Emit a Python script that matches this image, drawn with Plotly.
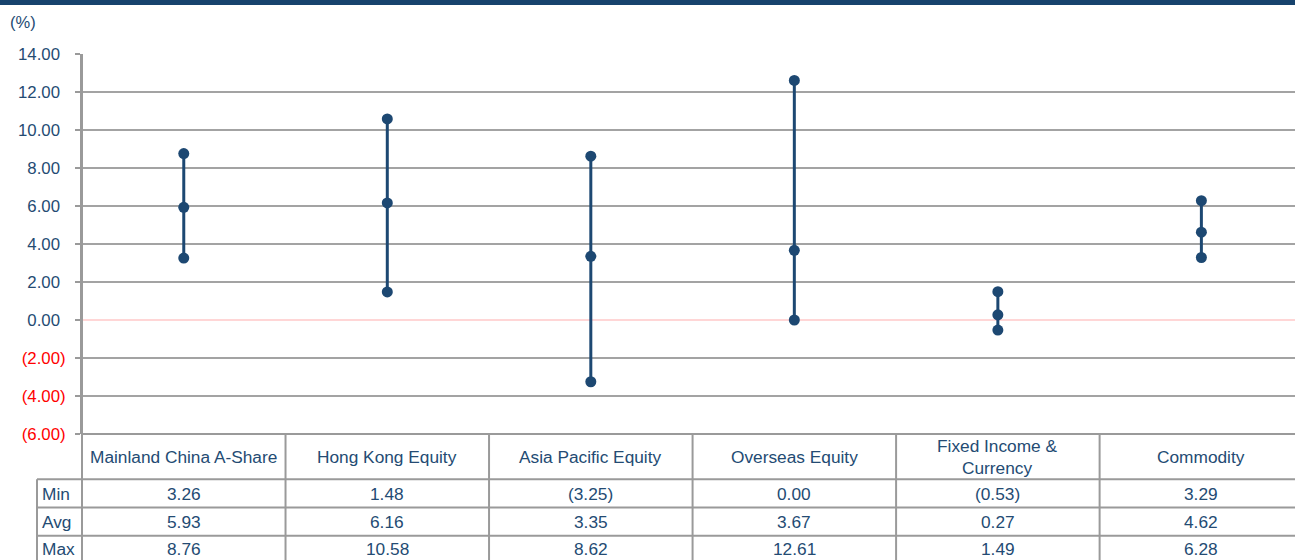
import plotly.graph_objects as go

categories = ["Mainland China A-Share", "Hong Kong Equity", "Asia Pacific Equity",
              "Overseas Equity", "Fixed Income &<br>Currency", "Commodity"]
min_vals = [3.26, 1.48, -3.25, 0.00, -0.53, 3.29]
avg_vals = [5.93, 6.16, 3.35, 3.67, 0.27, 4.62]
max_vals = [8.76, 10.58, 8.62, 12.61, 1.49, 6.28]
row_labels = ["Min", "Avg", "Max"]
y_ticks = [14, 12, 10, 8, 6, 4, 2, 0, -2, -4, -6]

BLUE = "#1d4872"
TXT = "#244b73"
GRID = "#a3a3a3"
BORDER = "#9a9a9a"
FONT = "Liberation Sans, Arial, sans-serif"
FS = 16.8
FT = 17.3

W, H = 1295, 560
ML, MT, MB = 82, 54, 126
PH = H - MT - MB  # 380
PW = W - ML       # 1213
XMIN, XMAX = -0.5, 5.46


def px_x(p):
    return (p - ML) / PW


def px_y(p):
    return (H - MB - p) / PH


def data_to_paper_x(x):
    return (x - XMIN) / (XMAX - XMIN)


def fmt(v):
    if v < 0:
        return f"({abs(v):.2f})"
    return f"{v:.2f}"


fig = go.Figure()

for i, cat in enumerate(categories):
    fig.add_trace(go.Scatter(
        x=[i, i, i], y=[min_vals[i], avg_vals[i], max_vals[i]],
        mode="lines+markers",
        line=dict(color=BLUE, width=3),
        marker=dict(color=BLUE, size=11),
        showlegend=False, hoverinfo="skip", cliponaxis=False,
    ))

ticktext = []
for t in y_ticks:
    if t < 0:
        ticktext.append(f'<span style="color:#ff0000">{fmt(t)}</span>')
    else:
        ticktext.append(f'{fmt(t)}<span style="color:rgba(0,0,0,0)">)</span>')

shapes = []
# top banner
shapes.append(dict(type="rect", xref="paper", yref="paper",
                   x0=px_x(0) - 0.01, x1=1.01, y0=px_y(5), y1=px_y(-2),
                   fillcolor="#17436d", line=dict(width=0), layer="above"))
# y axis extended through table
shapes.append(dict(type="line", xref="paper", yref="paper",
                   x0=0, x1=0, y0=1, y1=px_y(H + 5), line=dict(color=BORDER, width=2)))
# row label column left border
shapes.append(dict(type="line", xref="paper", yref="paper",
                   x0=px_x(37), x1=px_x(37), y0=px_y(479.3), y1=px_y(H + 5),
                   line=dict(color=BORDER, width=2)))
# column borders
for i in range(len(categories)):
    xp = data_to_paper_x(i + 0.5)
    shapes.append(dict(type="line", xref="paper", yref="paper",
                       x0=xp, x1=xp, y0=0, y1=px_y(H + 5),
                       line=dict(color=BORDER, width=2)))
# header top
shapes.append(dict(type="line", xref="paper", yref="paper",
                   x0=0, x1=1.01, y0=0, y1=0, line=dict(color=BORDER, width=2)))
row_tops = [479.3, 507.6, 535.7]
for rt in row_tops:
    shapes.append(dict(type="line", xref="paper", yref="paper",
                       x0=px_x(37), x1=1.01, y0=px_y(rt), y1=px_y(rt),
                       line=dict(color=BORDER, width=2)))

annotations = []
annotations.append(dict(text="(%)", xref="paper", yref="paper",
                        x=px_x(8), y=px_y(22), xanchor="left", yanchor="middle",
                        showarrow=False, font=dict(size=16.5, color=TXT, family=FONT)))
for i, cat in enumerate(categories):
    annotations.append(dict(text=cat, xref="paper", yref="paper",
                            x=data_to_paper_x(i), y=px_y(457), xanchor="center", yanchor="middle",
                            showarrow=False, font=dict(size=FT, color=TXT, family=FONT)))
row_centers = [493.5, 521.7, 549.2]
for r, (lab, vals) in enumerate(zip(row_labels, [min_vals, avg_vals, max_vals])):
    annotations.append(dict(text=lab, xref="paper", yref="paper",
                            x=px_x(40), y=px_y(row_centers[r]), xanchor="left", yanchor="middle",
                            showarrow=False, font=dict(size=FT, color=TXT, family=FONT)))
    for i, v in enumerate(vals):
        annotations.append(dict(text=fmt(v), xref="paper", yref="paper",
                                x=data_to_paper_x(i), y=px_y(row_centers[r]),
                                xanchor="center", yanchor="middle",
                                showarrow=False, font=dict(size=FT, color=TXT, family=FONT)))

fig.update_layout(
    width=W, height=H,
    margin=dict(l=ML, r=0, t=MT, b=MB, pad=0),
    plot_bgcolor="white", paper_bgcolor="white",
    font=dict(family=FONT, color=TXT, size=FS),
    xaxis=dict(range=[XMIN, XMAX], showgrid=False, zeroline=False,
               showticklabels=False, showline=False, ticks=""),
    yaxis=dict(range=[-6, 14], tickvals=y_ticks, ticktext=ticktext,
               showgrid=True, gridcolor=GRID, gridwidth=2,
               zeroline=True, zerolinecolor="#ffd6d6", zerolinewidth=1.5,
               showline=True, linecolor=BORDER, linewidth=2,
               ticks="outside", ticklen=5, tickcolor=BORDER, tickwidth=2,
               tickfont=dict(size=FS, color=TXT, family=FONT),
               ticklabelstandoff=6),
    shapes=shapes,
    annotations=annotations,
)

fig.write_html("out.html")
